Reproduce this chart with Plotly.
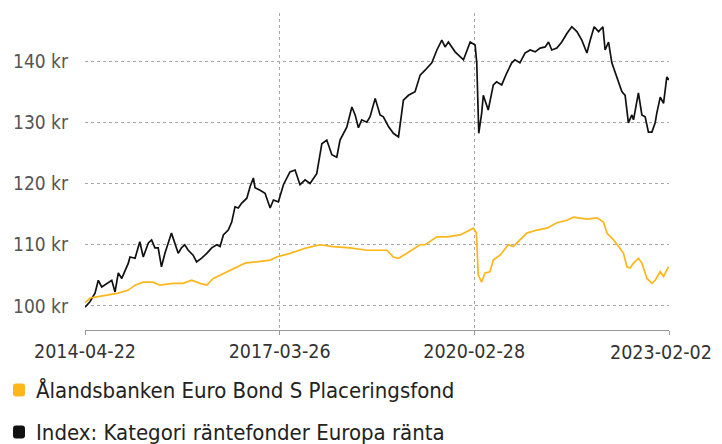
import plotly.graph_objects as go

# Index: Kategori räntefonder Europa ränta
index_dates = [
    "2014-04-22", "2014-05-19", "2014-06-16", "2014-07-04", "2014-07-23", "2014-08-19", "2014-09-16",
    "2014-10-04", "2014-10-22", "2014-11-10", "2014-12-16", "2014-12-25", "2015-01-22", "2015-02-17",
    "2015-03-08", "2015-04-05", "2015-04-23", "2015-05-11", "2015-05-29", "2015-06-16", "2015-07-05",
    "2015-08-10", "2015-08-29", "2015-09-16", "2015-10-04", "2015-10-22", "2015-11-10", "2015-12-07",
    "2015-12-26", "2016-01-23", "2016-02-20", "2016-03-18", "2016-04-15", "2016-05-03", "2016-05-21",
    "2016-06-17", "2016-07-06", "2016-07-24", "2016-08-11", "2016-08-30", "2016-09-27", "2016-10-15",
    "2016-11-02", "2016-11-11", "2016-12-09", "2017-01-05", "2017-02-02", "2017-02-20", "2017-03-19",
    "2017-04-16", "2017-05-22", "2017-06-19", "2017-07-16", "2017-08-13", "2017-09-09", "2017-10-16",
    "2017-11-13", "2017-12-10", "2018-01-07", "2018-02-03", "2018-02-21", "2018-03-30", "2018-04-27",
    "2018-05-15", "2018-06-02", "2018-06-20", "2018-07-18", "2018-08-05", "2018-09-02", "2018-09-29",
    "2018-10-17", "2018-11-14", "2018-12-11", "2019-01-08", "2019-02-04", "2019-03-04", "2019-04-09",
    "2019-05-07", "2019-06-03", "2019-07-10", "2019-08-07", "2019-09-03", "2019-09-21", "2019-10-09",
    "2019-11-15", "2019-12-31", "2020-02-06", "2020-03-04", "2020-03-13", "2020-03-24", "2020-04-09",
    "2020-04-18", "2020-05-15", "2020-06-12", "2020-06-30", "2020-07-28", "2020-08-24", "2020-09-21",
    "2020-10-09", "2020-11-05", "2020-12-03", "2020-12-31", "2021-01-28", "2021-02-24", "2021-03-24",
    "2021-04-11", "2021-04-29", "2021-05-27", "2021-06-23", "2021-07-21", "2021-08-17", "2021-09-14",
    "2021-10-11", "2021-11-08", "2021-11-26", "2021-12-18", "2022-01-11", "2022-02-04", "2022-02-16",
    "2022-03-07", "2022-03-25", "2022-04-12", "2022-05-01", "2022-05-19", "2022-06-06", "2022-06-24",
    "2022-07-13", "2022-07-22", "2022-08-18", "2022-09-06", "2022-09-24", "2022-10-12", "2022-10-31",
    "2022-11-18", "2022-11-27", "2022-12-16", "2023-01-03", "2023-01-21", "2023-02-02",
]
index_values = [
    99.8, 100.7, 102.1, 104.2, 103.1, 103.7, 104.2,
    102.3, 105.4, 104.5, 107.0, 108.0, 107.8, 110.5,
    108.0, 110.3, 110.8, 109.5, 109.5, 106.4, 108.6,
    111.9, 110.0, 108.6, 109.5, 110.0, 109.1, 108.3,
    107.2, 107.8, 108.6, 109.5, 110.0, 109.7, 111.6,
    112.4, 113.7, 116.2, 116.0, 116.8, 117.6, 119.5,
    120.9, 119.3, 118.9, 118.4, 116.0, 117.3, 117.0,
    119.8, 121.9, 122.2, 119.8, 120.6, 120.0, 121.6,
    126.5, 127.1, 124.7, 124.3, 127.1, 129.2, 132.5,
    131.2, 129.1, 130.4, 130.0, 130.9, 133.9, 131.2,
    130.9, 129.3, 128.2, 127.6, 133.6, 134.4, 135.0,
    137.7, 138.5, 139.7, 141.8, 143.4, 142.3, 143.1,
    141.5, 140.2, 143.1, 142.6, 139.7, 128.2, 131.5,
    134.4, 132.0, 136.1, 136.6, 136.1, 138.0, 139.7,
    140.2, 139.7, 141.3, 141.8, 141.5, 142.1, 142.3,
    143.1, 141.8, 142.1, 143.1, 144.5, 145.6, 144.8,
    143.4, 141.3, 143.4, 145.6, 144.8, 145.6, 141.8,
    143.1, 139.7, 138.2, 136.6, 135.0, 134.4, 129.9,
    131.2, 130.4, 134.8, 131.2, 130.9, 128.4, 128.4,
    129.9, 131.5, 134.1, 133.1, 137.4, 136.9,
]

# Ålandsbanken Euro Bond S Placeringsfond
fund_dates = [
    "2014-04-22", "2014-05-19", "2014-06-25", "2014-09-06", "2014-10-22", "2014-12-16", "2015-01-22",
    "2015-03-07", "2015-05-01", "2015-06-07", "2015-08-19", "2015-10-13", "2015-11-28", "2016-01-14",
    "2016-02-20", "2016-03-27", "2016-06-09", "2016-08-03", "2016-09-17", "2016-11-20", "2017-02-02",
    "2017-03-10", "2017-05-22", "2017-08-22", "2017-11-03", "2018-01-15", "2018-04-17", "2018-07-18",
    "2018-11-05", "2018-12-11", "2019-01-08", "2019-02-23", "2019-05-07", "2019-06-03", "2019-08-07",
    "2019-10-01", "2019-12-13", "2020-02-24", "2020-03-11", "2020-03-21", "2020-04-09", "2020-04-27",
    "2020-05-24", "2020-06-12", "2020-07-19", "2020-09-02", "2020-09-30", "2020-11-05", "2020-12-13",
    "2021-02-06", "2021-04-02", "2021-05-27", "2021-07-21", "2021-08-26", "2021-10-02", "2021-11-08",
    "2022-01-02", "2022-02-07", "2022-02-26", "2022-04-03", "2022-05-01", "2022-05-28", "2022-06-16",
    "2022-07-04", "2022-07-22", "2022-08-18", "2022-09-06", "2022-10-04", "2022-10-31", "2022-11-18",
    "2022-12-16", "2023-01-03", "2023-01-30",
]
fund_values = [
    100.5, 101.3, 101.5, 101.8, 102.1, 102.6, 103.4,
    103.9, 103.9, 103.4, 103.7, 103.7, 104.2, 103.7,
    103.4, 104.5, 105.6, 106.4, 107.0, 107.2, 107.5,
    108.0, 108.6, 109.5, 110.0, 109.7, 109.5, 109.1,
    109.1, 108.0, 107.8, 108.6, 110.0, 110.0, 111.3,
    111.3, 111.6, 112.7, 111.9, 105.1, 103.9, 105.4,
    105.6, 107.5, 108.3, 110.0, 109.7, 110.8, 111.9,
    112.4, 112.7, 113.6, 114.0, 114.5, 114.4, 114.2,
    114.4, 113.7, 111.9, 110.8, 109.7, 108.6, 106.4,
    106.2, 107.0, 107.8, 107.0, 104.5, 103.7, 104.2,
    105.6, 104.8, 106.4,
]

x_tick_vals = ["2014-04-22", "2017-03-26", "2020-02-28", "2023-02-02"]
y_tick_vals = [100, 110, 120, 130, 140]
y_tick_text = [f"{v} kr" for v in y_tick_vals]

series_names = ["Ålandsbanken Euro Bond S Placeringsfond",
                "Index: Kategori räntefonder Europa ränta"]
fund_color = "#FFB61A"
index_color = "#111111"
legend_colors = [fund_color, index_color]

FONT = "DejaVu Sans Condensed, DejaVu Sans, sans-serif"
XTICK_FONT = dict(size=19.5, color="#333333", family=FONT)

fig = go.Figure()
fig.add_trace(go.Scatter(x=index_dates, y=index_values, mode="lines",
                         line=dict(color=index_color, width=1.7), showlegend=False,
                         name=series_names[1]))
fig.add_trace(go.Scatter(x=fund_dates, y=fund_values, mode="lines",
                         line=dict(color=fund_color, width=1.7), showlegend=False,
                         name=series_names[0]))

# The page body has an 8px default margin; compensate so the plot lands
# where the reference has it.
BODY = 8
W, H = 722 - BODY, 444 - BODY
ML, MR, MT, MB = 85 - BODY, 53, 13 - BODY, 114
pw, ph = W - ML - MR, H - MT - MB


def px_to_paper_x(px):
    return (px - BODY - ML) / pw


def py_to_paper_y(py):
    return (H - MB - (py - BODY)) / ph


rounded_sq = ("M -6,-3.5 Q -6,-6.5 -3,-6.5 L 3,-6.5 Q 6,-6.5 6,-3.5 "
              "L 6,3.5 Q 6,6.5 3,6.5 L -3,6.5 Q -6,6.5 -6,3.5 Z")
legend_centers = [390, 432]
for name, col, cy in zip(series_names, legend_colors, legend_centers):
    fig.add_shape(type="path", path=rounded_sq, xref="paper", yref="paper",
                  xsizemode="pixel", ysizemode="pixel",
                  xanchor=px_to_paper_x(19), yanchor=py_to_paper_y(cy),
                  fillcolor=col, line=dict(width=0))
    fig.add_annotation(text=name, xref="paper", yref="paper",
                       x=px_to_paper_x(34), y=py_to_paper_y(cy),
                       xanchor="left", yanchor="middle", showarrow=False,
                       font=dict(size=22, color="#222222", family=FONT))

# Last x tick label: right-aligned so it stays inside the visible page
x_tick_text = x_tick_vals[:-1] + [""]
fig.add_annotation(text=x_tick_vals[-1], xref="paper", yref="paper",
                   x=px_to_paper_x(714), y=py_to_paper_y(352),
                   xanchor="right", yanchor="middle", showarrow=False,
                   font=XTICK_FONT)

fig.update_layout(
    width=W, height=H,
    margin=dict(l=ML, r=MR, t=MT, b=MB, autoexpand=False),
    paper_bgcolor="white", plot_bgcolor="white",
    font=dict(family=FONT, color="#333333"),
    showlegend=False,
    xaxis=dict(
        type="date",
        range=["2014-04-22", "2023-02-02"],
        tickvals=x_tick_vals, ticktext=x_tick_text,
        showgrid=True, gridcolor="#A8A8A8", griddash="3px,3px", gridwidth=1,
        showline=True, linecolor="#999999", linewidth=1,
        ticks="outside", ticklen=4, tickcolor="#999999",
        tickfont=XTICK_FONT,
        zeroline=False,
    ),
    yaxis=dict(
        range=[96.08, 147.84],
        tickvals=y_tick_vals, ticktext=y_tick_text,
        showgrid=True, gridcolor="#A8A8A8", griddash="3px,3px", gridwidth=1,
        showline=False, zeroline=False, ticks="",
        ticklabelstandoff=16,
        tickfont=dict(size=19, color="#555555"),
    ),
)

fig.write_html("out.html")
